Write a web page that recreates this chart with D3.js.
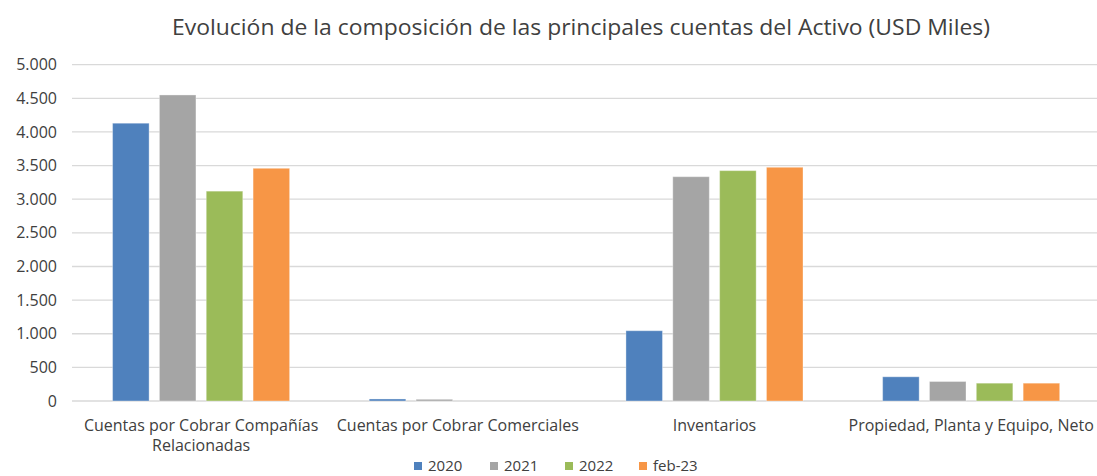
<!DOCTYPE html>
<html><head><meta charset="utf-8">
<script src="https://cdn.jsdelivr.net/npm/d3@7"></script>
<style>body{margin:0;background:#fff}svg{display:block}</style>
</head><body>
<svg id="c" width="1097" height="476"></svg>
<script>
const categories = [["Cuentas por Cobrar Compañías","Relacionadas"],["Cuentas por Cobrar Comerciales"],["Inventarios"],["Propiedad, Planta y Equipo, Neto"]];
const seriesNames = ["2020","2021","2022","feb-23"];
const s2020 = [4130, 30, 1045, 360];
const s2021 = [4550, 25, 3335, 290];
const s2022 = [3120, 0, 3425, 265];
const sFeb23 = [3460, 0, 3475, 265];
const colors = ["#4F81BD","#A5A5A5","#9BBB59","#F79646"];
const yTicks = [0,500,1000,1500,2000,2500,3000,3500,4000,4500,5000];
const series = [s2020,s2021,s2022,sFeb23];

const svg = d3.select("#c");
const font = "Open Sans, sans-serif";
const txt = "#404040";
const x0 = d3.scaleBand().domain(d3.range(categories.length)).range([72.75, 1099.5]).padding(0);
const x1 = d3.scaleBand().domain(d3.range(seriesNames.length)).range([0, x0.bandwidth()]).paddingInner(0.22).paddingOuter(0.85);
const y = d3.scaleLinear().domain([0,5000]).range([401, 64.7]);

svg.append("text").attr("x",581).attr("y",35).attr("text-anchor","middle")
  .attr("font-family",font).attr("font-size",21).attr("fill",txt)
  .attr("textLength",818).attr("lengthAdjust","spacingAndGlyphs")
  .text("Evolución de la composición de las principales cuentas del Activo (USD Miles)");

const grid = svg.append("g");
yTicks.forEach(t=>{
  grid.append("line").attr("x1",72).attr("x2",1097).attr("y1",y(t)).attr("y2",y(t))
    .attr("stroke", "#D9D9D9").attr("stroke-width",1.3);
});
const yAxis = d3.axisLeft(y).tickValues(yTicks).tickSize(0).tickPadding(0)
  .tickFormat(d=>d3.format(",")(d).replace(/,/g,"."));
const ya = svg.append("g").attr("transform","translate(57,0)").call(yAxis);
ya.select(".domain").remove();
ya.selectAll("text").attr("font-family",font).attr("font-size",16).attr("fill",txt);

const g = svg.append("g");
series.forEach((s,si)=>{
  g.selectAll(null).data(s).enter().append("rect")
    .attr("x",(d,i)=>x0(i)+x1(si)).attr("width",x1.bandwidth())
    .attr("y",d=>y(d)).attr("height",d=>y(0)-y(d))
    .attr("fill",colors[si]).attr("stroke","#ffffff").attr("stroke-opacity",0.35).attr("stroke-width",1);
});

const xa = svg.append("g");
categories.forEach((lines,i)=>{
  const cx = x0(i)+x0.bandwidth()/2;
  const t = xa.append("text").attr("x",cx).attr("y",431)
    .attr("text-anchor","middle").attr("font-family",font).attr("font-size",16).attr("fill",txt);
  lines.forEach((l,li)=>t.append("tspan").attr("x",cx).attr("dy",li?20:0).text(l));
});

const legX = [414, 490, 565, 639];
const lg = svg.append("g");
seriesNames.forEach((n,i)=>{
  lg.append("rect").attr("x",legX[i]).attr("y",462).attr("width",8).attr("height",8).attr("fill",colors[i]);
  lg.append("text").attr("x",legX[i]+14).attr("y",471).attr("font-family",font).attr("font-size",15).attr("fill",txt).text(n);
});
</script>
</body></html>
